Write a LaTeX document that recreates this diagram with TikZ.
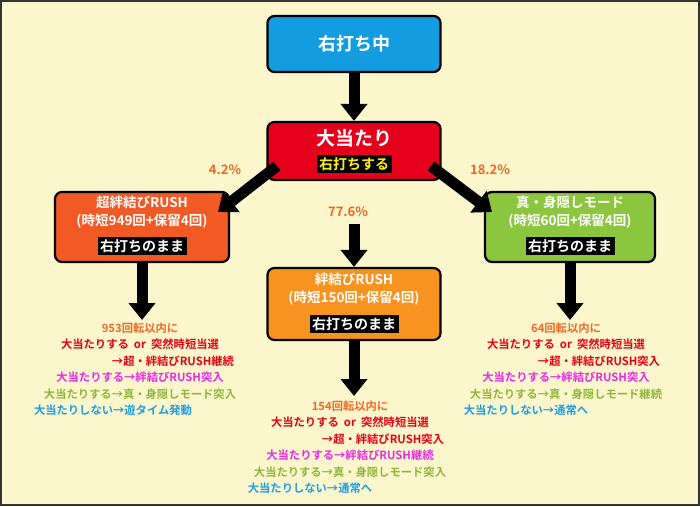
\documentclass[tikz,border=0pt]{standalone}
\usepackage{fontspec}
\setmainfont{Noto Sans CJK JP}[BoldFont={* Bold}]
\usetikzlibrary{arrows.meta}
\definecolor{bg}{HTML}{FBF6CC}
\definecolor{cy}{HTML}{139CE0}
\definecolor{rd}{HTML}{E5001C}
\definecolor{orr}{HTML}{F15A24}
\definecolor{org}{HTML}{F7931E}
\definecolor{grn}{HTML}{8CC63F}
\definecolor{pct}{HTML}{F26522}
\definecolor{tred}{HTML}{E60012}
\definecolor{tmag}{HTML}{E62BE6}
\definecolor{tgrn}{HTML}{8DB83A}
\definecolor{tblu}{HTML}{1E9CE8}
\definecolor{tor}{HTML}{F26A2A}
\begin{document}
\begin{tikzpicture}[x=1pt,y=-1pt,font=\bfseries,
  box/.style={draw=black,line width=2.2pt,rounded corners=7pt,minimum width=173pt,align=center,inner sep=2pt},
  tag/.style={fill=black,inner sep=2.5pt,font=\bfseries\fontsize{14}{15}\selectfont},
  arr/.style={line width=11pt,-{Triangle[width=26pt,length=17pt]}},
  pc/.style={text=pct,font=\bfseries\fontsize{13}{14}\selectfont},
  res/.style={align=center,font=\bfseries\fontsize{11.3}{16.5}\selectfont}]
\fill[bg] (0,0) rectangle (700,506);
\draw[black!80,line width=2pt] (1,1) rectangle (699,505);
\node[box,fill=cy,minimum height=56pt,text=white,font=\bfseries\fontsize{18}{20}\selectfont] (top) at (354,44) {右打ち中};
\node[box,fill=rd,minimum height=58pt] (hit) at (354,151) {};
\node[text=white,font=\bfseries\fontsize{19}{20}\selectfont] (hitt) at (354,138) {大当たり};
\node[tag,text=yellow] (hittag) at (354,164) {右打ちする};
\node[box,fill=orr,minimum width=174pt,minimum height=70pt] (L) at (142,227) {};
\node[align=center,text=white,font=\bfseries\fontsize{13.5}{18}\selectfont] (Lt) at (142,212) {超絆結びRUSH\\(時短949回+保留4回)};
\node[tag,text=white] (Ltag) at (142,246) {右打ちのまま};
\node[box,fill=org,minimum height=72pt] (M) at (354,304) {};
\node[align=center,text=white,font=\bfseries\fontsize{13.5}{18}\selectfont] (Mt) at (354,289) {絆結びRUSH\\(時短150回+保留4回)};
\node[tag,text=white] (Mtag) at (354,324) {右打ちのまま};
\node[box,fill=grn,minimum width=170pt,minimum height=70pt] (R) at (570,227) {};
\node[align=center,text=white,font=\bfseries\fontsize{13.5}{18}\selectfont] (Rt) at (570,212) {真・身隠しモード\\(時短60回+保留4回)};
\node[tag,text=white] (Rtag) at (570,246) {右打ちのまま};
\draw[arr] (top.south) -- (hit.north);
\coordinate (a1) at (277,166); \coordinate (b1) at (218,212);
\coordinate (a2) at (431,166); \coordinate (b2) at (492,212);
\coordinate (a3) at (354,224);
\draw[arr] (a1) -- (b1);
\draw[arr] (a2) -- (b2);
\draw[arr] (a3) -- (M.north);
\node[pc] (p1) at (225,170) {4.2\%};
\node[pc] (p2) at (348,212) {77.6\%};
\node[pc] (p3) at (490,170) {18.2\%};
\coordinate (Le) at (142,320);
\coordinate (Me) at (354,396);
\coordinate (Re) at (570,320);
\draw[arr] (L.south) -- (Le);
\draw[arr] (M.south) -- (Me);
\draw[arr] (R.south) -- (Re);
\node[res,anchor=north] (Ltx) at (140,319) {\textcolor{tor}{953回転以内に}\\
\textcolor{tred}{大当たりする\ \ or\ \ 突然時短当選}\\
\hspace*{66pt}\textcolor{tred}{→超・絆結びRUSH継続}\\
\textcolor{tmag}{大当たりする→絆結びRUSH突入}\\
\textcolor{tgrn}{大当たりする→真・身隠しモード突入}\\
\hspace*{-54pt}\textcolor{tblu}{大当たりしない→遊タイム発動}};
\node[res,anchor=north] (Mtx) at (350,397) {\textcolor{tor}{154回転以内に}\\
\textcolor{tred}{大当たりする\ \ or\ \ 突然時短当選}\\
\hspace*{66pt}\textcolor{tred}{→超・絆結びRUSH突入}\\
\textcolor{tmag}{大当たりする→絆結びRUSH継続}\\
\textcolor{tgrn}{大当たりする→真・身隠しモード突入}\\
\hspace*{-80pt}\textcolor{tblu}{大当たりしない→通常へ}};
\node[res,anchor=north] (Rtx) at (566,319) {\textcolor{tor}{64回転以内に}\\
\textcolor{tred}{大当たりする\ \ or\ \ 突然時短当選}\\
\hspace*{66pt}\textcolor{tred}{→超・絆結びRUSH突入}\\
\textcolor{tmag}{大当たりする→絆結びRUSH突入}\\
\textcolor{tgrn}{大当たりする→真・身隠しモード継続}\\
\hspace*{-80pt}\textcolor{tblu}{大当たりしない→通常へ}};
\end{tikzpicture}
\end{document}
